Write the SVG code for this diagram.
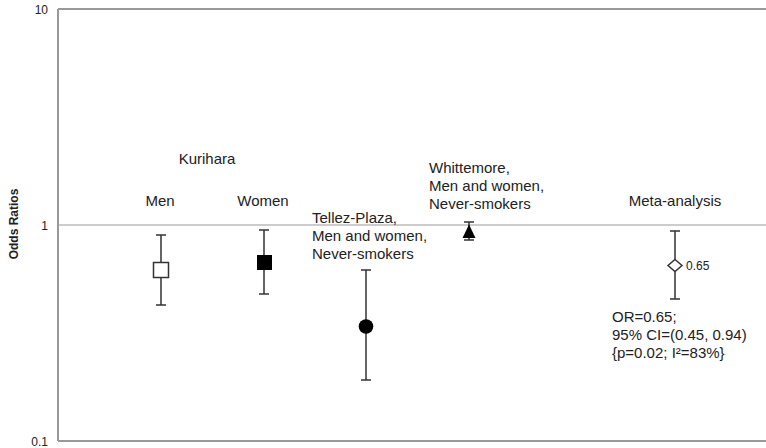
<svg xmlns="http://www.w3.org/2000/svg" width="766" height="448" viewBox="0 0 766 448">
<style>
.t{font-family:"Liberation Sans",Arial,sans-serif;font-size:15px;fill:#222}
.ax{font-family:"Liberation Sans",Arial,sans-serif;font-size:12px;fill:#222}
.bar{stroke:#333;stroke-width:1.5;fill:none}
.axis{stroke:#999;stroke-width:2;fill:none}
</style>
<rect width="766" height="448" fill="#fff"/>
<g id="axes">
<line class="axis" x1="58" y1="9" x2="766" y2="9"/>
<line x1="58" y1="225" x2="766" y2="225" stroke="#ccc" stroke-width="2"/>
<line class="axis" x1="58" y1="441" x2="766" y2="441"/>
<line class="axis" x1="58" y1="9" x2="58" y2="441"/>
<text class="ax" x="48" y="14" text-anchor="end">10</text>
<text class="ax" x="48" y="230" text-anchor="end">1</text>
<text class="ax" x="48" y="446" text-anchor="end">0.1</text>
<text class="ax" font-weight="bold" transform="translate(18,224) rotate(-90)" text-anchor="middle">Odds Ratios</text>
</g>
<g id="connectors">
<path class="bar" d="M161 235V305M156 235H166M156 305H166"/>
<path class="bar" d="M264 230V294M259 230H269M259 294H269"/>
<path class="bar" d="M366 270V380M361 270H371M361 380H371"/>
<path class="bar" d="M469 222V240M464 222H474M464 240H474"/>
<path class="bar" d="M675 231V299M670 231H680M670 299H680"/>
</g>
<g id="kurihara">
<text class="t" x="207" y="164" text-anchor="middle">Kurihara</text>
</g>
<g id="men">
<text class="t" x="160" y="206" text-anchor="middle">Men</text>
<rect x="153.5" y="262.5" width="15" height="15" fill="#fff" stroke="#333" stroke-width="1.5"/>
</g>
<g id="women">
<text class="t" x="263" y="206" text-anchor="middle">Women</text>
<rect x="257" y="255" width="15" height="15" fill="#000"/>
</g>
<g id="tellez">
<text class="t"><tspan x="312" y="223">Tellez-Plaza,</tspan><tspan x="312" y="241">Men and women,</tspan><tspan x="312" y="259">Never-smokers</tspan></text>
<circle cx="366" cy="326.5" r="7.3" fill="#000"/>
</g>
<g id="whittemore">
<text class="t"><tspan x="429" y="173">Whittemore,</tspan><tspan x="429" y="191">Men and women,</tspan><tspan x="429" y="209">Never-smokers</tspan></text>
<polygon points="469,224.5 475.5,238 462.5,238" fill="#000"/>
</g>
<g id="meta">
<text class="t" x="675" y="206" text-anchor="middle">Meta-analysis</text>
<polygon points="675,259.5 682,265.5 675,271.5 668,265.5" fill="#fff" stroke="#333" stroke-width="1.5"/>
<text class="ax" x="686" y="269.5">0.65</text>
<text class="t"><tspan x="612" y="322">OR=0.65;</tspan><tspan x="612" y="340">95% CI=(0.45, 0.94)</tspan><tspan x="612" y="358">{p=0.02; I²=83%}</tspan></text>
</g>
</svg>
